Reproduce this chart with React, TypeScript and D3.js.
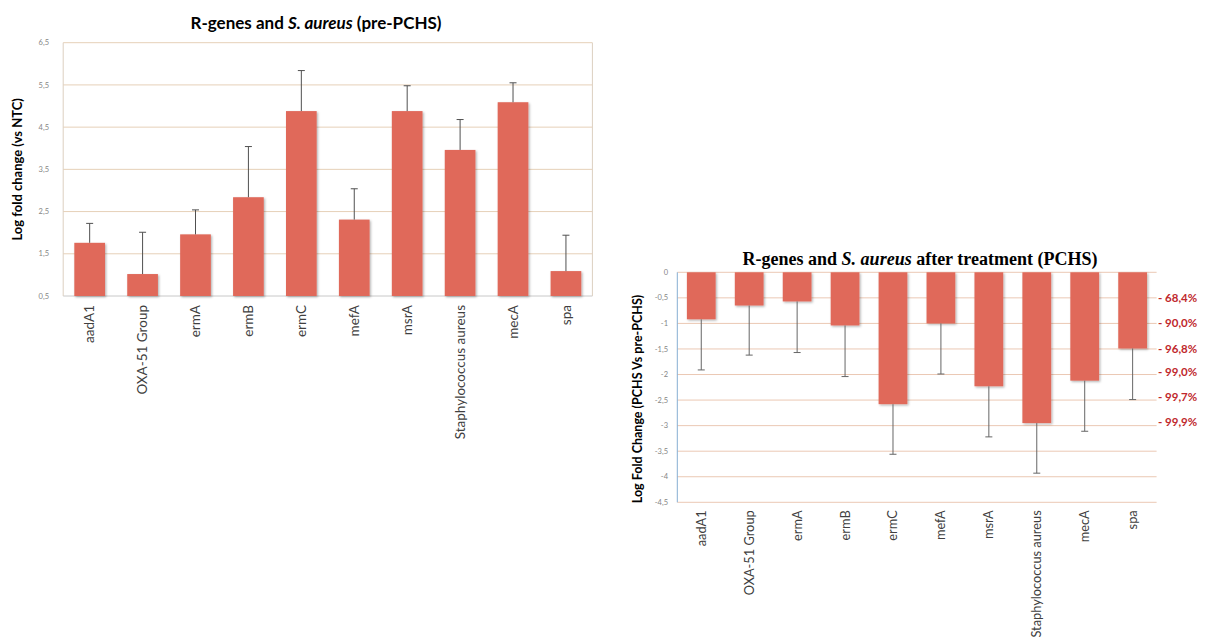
import React from "react";
import * as d3 from "d3";

const categories = ["aadA1", "OXA-51 Group", "ermA", "ermB", "ermC", "mefA", "msrA", "Staphylococcus aureus", "mecA", "spa"];
// pre-PCHS log fold change (vs NTC) and upper error
const preValues = [1.76, 1.02, 1.96, 2.84, 4.88, 2.31, 4.88, 3.96, 5.09, 1.09];
const preErrors = [0.46, 0.99, 0.58, 1.2, 0.96, 0.73, 0.6, 0.72, 0.46, 0.85];
// PCHS vs pre-PCHS log fold change and lower error
const postValues = [-0.92, -0.65, -0.57, -1.04, -2.58, -1.0, -2.23, -2.95, -2.12, -1.49];
const postErrors = [0.99, 0.97, 1.0, 1.0, 0.98, 0.99, 0.99, 0.98, 0.99, 1.0];
const preTicks = [0.5, 1.5, 2.5, 3.5, 4.5, 5.5, 6.5];
const postTicks = [0, -0.5, -1, -1.5, -2, -2.5, -3, -3.5, -4, -4.5];
const reductionLabels = ["- 68,4%", "- 90,0%", "- 96,8%", "- 99,0%", "- 99,7%", "- 99,9%"];
const reductionLevels = [-0.5, -0.99, -1.5, -1.95, -2.44, -2.93];

const BAR = "#E0695A";
const fmt = (v: number) => (v === 0 ? "0" : String(v).replace(".", ","));

export default function App() {
  // ---------- chart 1 ----------
  const x1 = d3.scaleBand<string>().domain(categories).range([63.2, 592.4]).paddingInner(0.42).paddingOuter(0.21);
  const y1 = d3.scaleLinear().domain([0.5, 6.5]).range([296, 42.7]);
  // ---------- chart 2 ----------
  const x2 = d3.scaleBand<string>().domain(categories).range([677.3, 1156.6]).paddingInner(0.4).paddingOuter(0.2);
  const y2 = d3.scaleLinear().domain([-4.5, 0]).range([502.3, 272.3]);

  const font = "Lato, 'Open Sans', sans-serif";
  const grid1 = "#E6D0B8";
  const grid2 = "#EBC9B4";

  return (
    <svg width={1206} height={642} style={{ position: "absolute", left: 0, top: 0, background: "#fff" }} fontFamily={font}>
      <defs>
        <filter id="shadow" x="-20%" y="-20%" width="140%" height="140%">
          <feDropShadow dx={1.2} dy={1.2} stdDeviation={0.9} floodColor="#000" floodOpacity={0.3} />
        </filter>
      </defs>
      {/* ===== Chart 1 ===== */}
      <text x={316} y={29} textAnchor="middle" fontSize={17} fontWeight="bold" fill="#000">
        R-genes and <tspan fontStyle="italic">S. aureus</tspan> (pre-PCHS)
      </text>
      {preTicks.map((t) => (
        <g key={"g1" + t}>
          <line x1={63.2} x2={592.4} y1={y1(t)} y2={y1(t)} stroke={t === 0.5 ? "#C8C8C8" : grid1} strokeWidth={1} />
          <text x={49} y={y1(t)} dy="0.35em" textAnchor="end" fontSize={7.5} fill="#858585">
            {fmt(t)}
          </text>
        </g>
      ))}
      <line x1={63.2} x2={63.2} y1={y1(6.5)} y2={y1(0.5)} stroke="#DCCFC0" />
      <line x1={592.4} x2={592.4} y1={y1(6.5)} y2={y1(0.5)} stroke="#DCCFC0" />
      <text transform={`translate(17,${(y1(0.5) + y1(6.5)) / 2}) rotate(-90)`} textAnchor="middle" dy="0.35em" fontSize={13} fontWeight="bold" fill="#000">
        Log fold change (vs NTC)
      </text>
      {categories.map((c, i) => {
        const cx = (x1(c) as number) + x1.bandwidth() / 2;
        const top = y1(preValues[i]);
        const et = y1(preValues[i] + preErrors[i]);
        return (
          <g key={"b1" + c}>
            <rect x={x1(c)} y={top} width={x1.bandwidth()} height={y1(0.5) - top} fill={BAR} filter="url(#shadow)" />
            <line x1={cx} x2={cx} y1={top} y2={et} stroke="#505050" strokeWidth={1} />
            <line x1={cx - 3.5} x2={cx + 3.5} y1={et} y2={et} stroke="#505050" strokeWidth={1} />
            <text transform={`translate(${cx},${y1(0.5) + 9}) rotate(-90)`} textAnchor="end" dy="0.35em" fontSize={13.5} fill="#404040">
              {c}
            </text>
          </g>
        );
      })}

      {/* ===== Chart 2 ===== */}
      <text x={920} y={265} textAnchor="middle" fontSize={18} fontWeight="bold" fontFamily="'Liberation Serif', 'Times New Roman', serif" fill="#000">
        R-genes and <tspan fontStyle="italic">S. aureus</tspan> after treatment (PCHS)
      </text>
      {postTicks.map((t) => (
        <g key={"g2" + t}>
          <line x1={677.3} x2={1156.6} y1={y2(t)} y2={y2(t)} stroke={grid2} strokeWidth={1} />
          <text x={668} y={y2(t)} dy="0.35em" textAnchor="end" fontSize={7.5} fill="#858585">
            {fmt(t)}
          </text>
        </g>
      ))}
      <line x1={677.3} x2={677.3} y1={y2(0)} y2={y2(-4.5)} stroke="#86AED3" strokeWidth={1} />
      <text transform={`translate(638,399) rotate(-90)`} textAnchor="middle" dy="0.35em" fontSize={12.5} fontWeight="bold" fill="#000">
        Log Fold Change (PCHS Vs pre-PCHS)
      </text>
      {categories.map((c, i) => {
        const cx = (x2(c) as number) + x2.bandwidth() / 2;
        const bot = y2(postValues[i]);
        const eb = y2(postValues[i] - postErrors[i]);
        return (
          <g key={"b2" + c}>
            <rect x={x2(c)} y={y2(0)} width={x2.bandwidth()} height={bot - y2(0)} fill={BAR} filter="url(#shadow)" />
            <line x1={cx} x2={cx} y1={bot} y2={eb} stroke="#666" strokeWidth={1} />
            <line x1={cx - 3.5} x2={cx + 3.5} y1={eb} y2={eb} stroke="#666" strokeWidth={1} />
            <text transform={`translate(${cx},${y2(-4.5) + 8}) rotate(-90)`} textAnchor="end" dy="0.35em" fontSize={12.8} fill="#404040">
              {c}
            </text>
          </g>
        );
      })}
      {reductionLabels.map((l, i) => (
        <text key={l} x={1158} y={y2(reductionLevels[i])} dy="0.35em" fontSize={11.5} fontWeight="bold" fill="#C0282D">
          {l}
        </text>
      ))}
    </svg>
  );
}
